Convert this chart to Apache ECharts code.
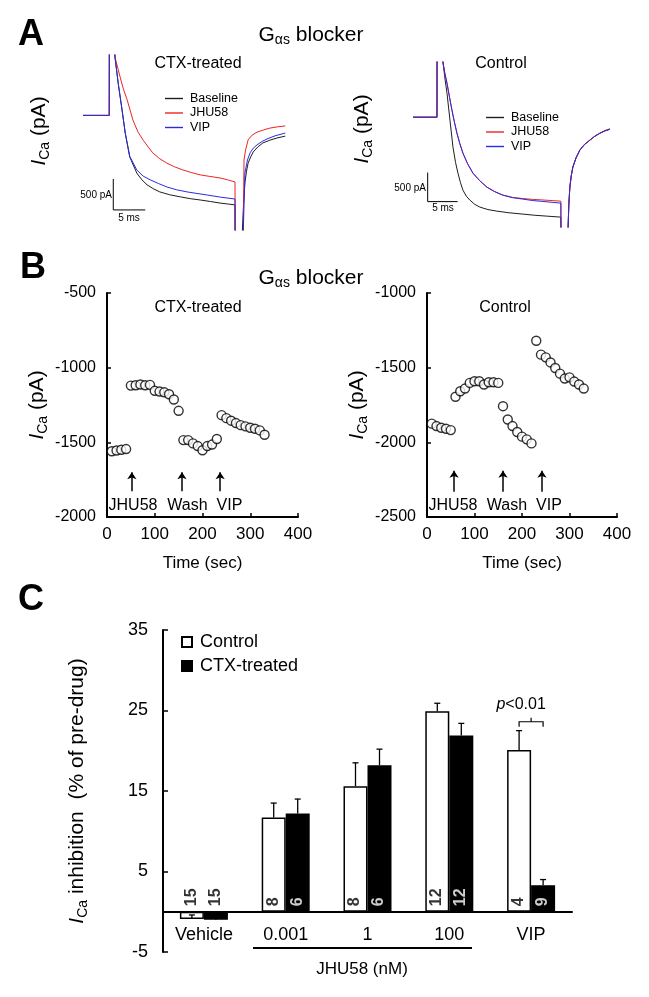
<!DOCTYPE html>
<html>
<head>
    <meta charset="utf-8"/>
    <title>Gαs blocker</title>
    <script src="https://cdn.jsdelivr.net/npm/echarts@6/dist/echarts.min.js"></script>
    <style>
        html, body { margin: 0; padding: 0; background: #fff; }
        #main { width: 649px; height: 997px; }
    </style>
</head>
<body>
<div id="main"></div>
<script>
    // ---- A: ICa traces, [time (ms), current (pA)] ----
    var ctxBaseline = [[0,0],[4.1,0],[4.12,1400],[4.7,1400],[5.0,940],[5.5,520],[6.1,90],[6.6,-285],[7.3,-670],[8.4,-930],[9.2,-1040],[10.0,-1120],[11.0,-1185],[12.0,-1235],[13.5,-1280],[15.2,-1315],[16.8,-1345],[18.3,-1365],[19.9,-1390],[21.4,-1415],[22.6,-1430],[23.75,-1445],[23.78,-2400],[24.85,-2400],[24.9,-1850],[25.1,-1400],[25.3,-1090],[25.55,-900],[25.8,-770],[26.2,-670],[26.6,-590],[27.3,-510],[28.1,-445],[29.2,-400],[30.3,-365],[31.6,-335]];
    var ctxJhu = [[0,0],[4.1,0],[4.12,1400],[4.7,1400],[5.0,940],[5.4,780],[5.8,620],[6.3,430],[6.9,250],[7.8,-75],[8.6,-270],[9.4,-400],[10.2,-510],[10.9,-605],[12.0,-700],[13.1,-770],[14.3,-830],[15.6,-880],[17.0,-925],[18.3,-960],[19.8,-985],[21.4,-1010],[22.6,-1040],[23.75,-1075],[23.78,-2400],[25.0,-2400],[25.05,-1850],[25.16,-720],[25.4,-560],[25.8,-395],[26.4,-320],[27.2,-270],[28.2,-235],[29.2,-205],[30.4,-185],[31.6,-170]];
    var ctxVip = [[0,0],[4.1,0],[4.12,1400],[4.7,1400],[5.0,940],[5.5,520],[6.1,90],[6.6,-285],[7.3,-660],[8.4,-880],[9.4,-980],[10.5,-1040],[11.8,-1100],[13.1,-1155],[14.6,-1200],[16.25,-1235],[17.8,-1260],[19.4,-1285],[21.5,-1320],[23.75,-1350],[23.78,-2400],[25.0,-2400],[25.05,-1850],[25.3,-930],[25.7,-720],[26.1,-605],[26.6,-530],[27.2,-475],[28.0,-420],[28.75,-380],[30.0,-330],[31.6,-285]];

    var ctlBaseline = [[0,0],[4.0,0],[4.02,1400],[4.8,1400],[5.0,946],[5.35,650],[5.67,413],[6.17,-52],[6.67,-516],[7.1,-780],[7.5,-963],[7.9,-1120],[8.33,-1256],[8.9,-1360],[9.5,-1428],[10.3,-1500],[11.17,-1548],[12.5,-1590],[14.0,-1617],[16.0,-1645],[18.33,-1668],[20.3,-1688],[22.33,-1703],[24.67,-1720],[24.7,-2500],[25.83,-2500],[25.88,-1892],[26.0,-1500],[26.17,-1204],[26.4,-1010],[26.67,-860],[27.2,-700],[27.83,-568],[28.6,-470],[29.5,-396],[30.3,-330],[31.17,-275],[32.0,-235],[32.83,-206]];
    var ctlJhu = [[0,0],[4.0,0],[4.02,1400],[4.8,1400],[5.0,946],[5.3,760],[5.67,585],[6.1,340],[6.5,120],[6.9,-80],[7.33,-275],[7.8,-450],[8.33,-619],[9.1,-800],[10.0,-963],[11.1,-1090],[12.33,-1204],[13.6,-1280],[15.0,-1342],[16.6,-1380],[18.33,-1400],[20.0,-1415],[21.67,-1425],[23.2,-1435],[24.67,-1445],[24.7,-2500],[25.83,-2500],[25.88,-1892],[26.0,-1500],[26.17,-1204],[26.4,-1010],[26.67,-860],[27.2,-700],[27.83,-568],[28.6,-470],[29.5,-396],[30.3,-330],[31.17,-275],[32.0,-230],[32.83,-200]];
    var ctlVip = [[0,0],[4.0,0],[4.02,1400],[4.8,1400],[5.0,946],[5.3,760],[5.67,585],[6.1,340],[6.5,120],[6.9,-80],[7.33,-275],[7.8,-450],[8.33,-619],[9.1,-800],[10.0,-963],[11.1,-1090],[12.33,-1204],[13.6,-1280],[15.0,-1342],[16.6,-1385],[18.33,-1410],[20.0,-1435],[21.67,-1450],[23.2,-1465],[24.67,-1479],[24.7,-2500],[25.83,-2500],[25.88,-1892],[26.0,-1500],[26.17,-1204],[26.4,-1010],[26.67,-860],[27.2,-700],[27.83,-568],[28.6,-470],[29.5,-396],[30.3,-330],[31.17,-278],[32.0,-238],[32.83,-210]];

    // scale bars: corner position and size (ms, pA)
    var scaleCornerCtx = [4.73, -1526];
    var scaleCornerCtl = [2.45, -1453];
    var scaleSize = [5, 500];

    // ---- B: ICa over time ----
    var timeSec = [10,20,30,40,50,60,70,80,90,100,110,120,130,140,150,160,170,180,190,200,210,220,230,240,250,260,270,280,290,300,310,320,330];
    var ctxCurrent = [-1560,-1555,-1550,-1545,-1120,-1118,-1113,-1118,-1115,-1155,-1160,-1165,-1178,-1213,-1289,-1485,-1485,-1507,-1525,-1553,-1525,-1515,-1478,-1318,-1338,-1355,-1371,-1385,-1393,-1402,-1409,-1420,-1449];
    var ctlCurrent = [-1875,-1891,-1902,-1909,-1918,-1695,-1658,-1640,-1602,-1591,-1591,-1613,-1598,-1598,-1602,-1758,-1847,-1891,-1931,-1962,-1980,-2007,-1320,-1413,-1431,-1465,-1502,-1540,-1573,-1565,-1593,-1613,-1640];
    var ctxArrowT = [52, 157, 237];
    var ctlArrowT = [57, 160, 242];
    var ctxArrowY = [-1827, -1700];
    var ctlArrowY = [-2331, -2191];
    var arrowNames = ['JHU58', 'Wash', 'VIP'];

    // ---- C: inhibition ----
    var groups = ['Vehicle', '0.001', '1', '100', 'VIP'];
    var controlMean = [-0.9, 11.7, 15.6, 24.9, 20.1];
    var controlErr = [0.5, 1.8, 2.9, 1.0, 2.4];
    var ctxMean = [-1.0, 12.2, 18.2, 21.9, 3.3];
    var ctxErr = [0.4, 1.8, 2.0, 1.5, 0.7];
    var controlN = [15, 8, 8, 12, 4];
    var ctxN = [15, 6, 6, 12, 9];
    var sigGroup = 4, sigLevel = 23.6;

    var FONT = '"Liberation Sans", Arial, sans-serif';
    var BLACK = '#1e1e1e', RED = '#ec2424', BLUE = '#2a2ae0';

    var myChart = echarts.init(document.getElementById('main'));

    var icaRich = {
        i: {fontStyle: 'italic', fontSize: 21, lineHeight: 26, fontFamily: FONT, color: '#000'},
        s: {fontSize: 14, lineHeight: 14, verticalAlign: 'bottom', fontFamily: FONT, color: '#000'}
    };
    function plain(v) { return String(v); }

    function txt(x, y, text, size, extra) {
        return {
            type: 'text', x: x, y: y, silent: true,
            style: Object.assign({
                text: text, fontSize: size, fontFamily: FONT, fill: '#000',
                align: 'center', verticalAlign: 'middle'
            }, extra || {})
        };
    }
    function gasTitle(y) {
        return txt(311, y, 'G{s|αs} blocker', 21, {lineHeight: 24, rich: {s: {fontSize: 14, lineHeight: 14, verticalAlign: 'bottom', fontFamily: FONT}}});
    }
    function icaLabel(x, y) {
        var t = txt(x, y, '{i|I}{s|Ca} (pA)', 21, {lineHeight: 26, rich: icaRich});
        t.rotation = Math.PI / 2;
        return t;
    }

    function trace(name, data, color, gi) {
        return {
            name: name, type: 'line', xAxisIndex: gi, yAxisIndex: gi, data: data,
            symbol: 'none', silent: true, clip: true,
            lineStyle: {color: color, width: 1}, itemStyle: {color: color}
        };
    }
    function scaleBarSeries(corner, gi) {
        return {
            type: 'line', xAxisIndex: gi, yAxisIndex: gi, symbol: 'none', silent: true,
            lineStyle: {color: '#000', width: 1},
            data: [[corner[0], corner[1] + scaleSize[1]], corner, [corner[0] + scaleSize[0], corner[1]]]
        };
    }
    function timeAxis(gi) {
        return {
            gridIndex: gi, type: 'value', min: 0, max: 400, interval: 100,
            axisLine: {onZero: false, lineStyle: {color: '#000', width: 2}},
            axisTick: {inside: true, length: 4, lineStyle: {color: '#000', width: 1.5}},
            axisLabel: {color: '#000', fontSize: 17, margin: 9, fontFamily: FONT, formatter: plain},
            splitLine: {show: false},
            name: 'Time (sec)', nameLocation: 'middle', nameGap: 38,
            nameTextStyle: {color: '#000', fontSize: 17, fontFamily: FONT}
        };
    }
    function currentAxis(gi, lo, hi) {
        return {
            gridIndex: gi, type: 'value', min: lo, max: hi, interval: 500,
            axisLine: {onZero: false, lineStyle: {color: '#000', width: 2}},
            axisTick: {inside: true, length: 4, lineStyle: {color: '#000', width: 1.5}},
            axisLabel: {color: '#000', fontSize: 16, margin: 11, fontFamily: FONT, formatter: plain},
            splitLine: {show: false},
            name: '{i|I}{s|Ca} (pA)', nameLocation: 'middle', nameRotate: 90, nameGap: 57,
            nameTextStyle: {color: '#000', fontSize: 21, lineHeight: 26, fontFamily: FONT, rich: icaRich}
        };
    }
    function timeCourse(times, values, arrowT, arrowY, gi) {
        return {
            type: 'scatter', xAxisIndex: gi, yAxisIndex: gi, silent: true,
            data: times.map(function (t, i) { return [t, values[i]]; }),
            symbol: 'circle', symbolSize: 9,
            itemStyle: {color: '#fff', borderColor: '#000', borderWidth: 1.4},
            markLine: {
                silent: true, symbol: ['none', 'arrow'], symbolSize: 7, animation: false,
                label: {show: false},
                lineStyle: {color: '#000', width: 1.5, type: 'solid'},
                data: arrowT.map(function (t) { return [{coord: [t, arrowY[0]]}, {coord: [t, arrowY[1]]}]; })
            }
        };
    }

    // error bars, drawn upward from the bar end
    function renderErr(params, api) {
        var i = api.value(0), m = api.value(1), e = api.value(2), side = api.value(3);
        var p0 = api.coord([i, m]), p1 = api.coord([i, m + e]);
        var x = p0[0] + side * 12;
        return {
            type: 'group', children: [
                {type: 'line', shape: {x1: x, y1: p0[1], x2: x, y2: p1[1]}, style: {stroke: '#000', lineWidth: 1.3}},
                {type: 'line', shape: {x1: x - 3, y1: p1[1], x2: x + 3, y2: p1[1]}, style: {stroke: '#000', lineWidth: 1.3}}
            ]
        };
    }
    function renderSig(params, api) {
        var p = api.coord([api.value(0), api.value(1)]);
        var x = p[0], y = p[1];
        return {
            type: 'group', children: [
                {type: 'polyline', shape: {points: [[x - 12, y + 5], [x - 12, y], [x + 12, y], [x + 12, y + 5]]}, style: {stroke: '#000', fill: null, lineWidth: 1.2}},
                {type: 'line', shape: {x1: x, y1: y, x2: x, y2: y - 4}, style: {stroke: '#000', lineWidth: 1.2}},
                {type: 'text', x: x - 10, y: y - 17, style: {text: '{i|p}<0.01', fontSize: 16, fontFamily: FONT, fill: '#000', align: 'center', verticalAlign: 'middle',
                    rich: {i: {fontStyle: 'italic', fontSize: 16, fontFamily: FONT}}}}
            ]
        };
    }
    function nLabels(nList, means, side, color) {
        return {
            type: 'scatter', xAxisIndex: 4, yAxisIndex: 4, silent: true, z: 5,
            symbolSize: 1, itemStyle: {color: 'rgba(0,0,0,0)', borderWidth: 0},
            data: nList.map(function (n, i) {
                return {value: [i, 0, n], label: {color: means[i] < 0 ? '#000' : color}};
            }),
            label: {
                show: true, position: [side * 12, -5], rotate: 90, align: 'left', verticalAlign: 'middle',
                fontSize: 16, fontWeight: 'bold', fontFamily: FONT,
                formatter: function (p) { return String(p.value[2]); }
            }
        };
    }

    var traceLegend = {
        data: ['Baseline', 'JHU58', 'VIP'], orient: 'vertical', padding: 0,
        icon: 'rect', itemWidth: 18, itemHeight: 1.4, itemGap: 1.5, selectedMode: false,
        textStyle: {color: '#000', fontSize: 12.5, fontFamily: FONT, padding: [0, 0, 0, 2]}
    };

    var option = {
        animation: false,
        textStyle: {fontFamily: FONT},
        grid: [
            {left: 83, top: 55, width: 208, height: 175, outerBoundsMode: 'none'},
            {left: 413, top: 62, width: 199, height: 165, outerBoundsMode: 'none'},
            {left: 107, top: 293, width: 191, height: 224, outerBoundsMode: 'none'},
            {left: 427, top: 293, width: 190, height: 224, outerBoundsMode: 'none'},
            {left: 163, top: 630, width: 409, height: 322, outerBoundsMode: 'none'}
        ],
        xAxis: [
            {gridIndex: 0, type: 'value', min: 0, max: 32.5, show: false},
            {gridIndex: 1, type: 'value', min: 0, max: 33.2, show: false},
            timeAxis(2),
            timeAxis(3),
            {
                gridIndex: 4, type: 'category', data: groups,
                axisLine: {onZero: true, lineStyle: {color: '#000', width: 2}},
                axisTick: {show: false},
                // labels sit just under the zero line (40 px above the grid bottom)
                axisLabel: {color: '#000', fontSize: 18, margin: -26, fontFamily: FONT},
                splitLine: {show: false}
            }
        ],
        yAxis: [
            {gridIndex: 0, type: 'value', min: -1850, max: 975, show: false},
            {gridIndex: 1, type: 'value', min: -1890, max: 950, show: false},
            currentAxis(2, -2000, -500),
            currentAxis(3, -2500, -1000),
            {
                gridIndex: 4, type: 'value', min: -5, max: 35, interval: 10,
                axisLine: {show: true, onZero: false, lineStyle: {color: '#000', width: 2}},
                axisTick: {show: true, inside: true, length: 5, lineStyle: {color: '#000', width: 1.5}},
                axisLabel: {color: '#000', fontSize: 18, margin: 15, fontFamily: FONT, formatter: plain},
                splitLine: {show: false},
                name: '{i|I}{s|Ca} inhibition  (% of pre-drug)', nameLocation: 'middle', nameRotate: 90, nameGap: 73,
                nameTextStyle: {color: '#000', fontSize: 21, lineHeight: 26, fontFamily: FONT, rich: icaRich}
            }
        ],
        legend: [
            Object.assign({left: 165, top: 92}, traceLegend),
            Object.assign({left: 486, top: 111}, traceLegend),
            {
                data: ['Control', 'CTX-treated'], orient: 'vertical', left: 181, top: 633, padding: 0,
                icon: 'rect', itemWidth: 10, itemHeight: 10, itemGap: 6, selectedMode: false,
                textStyle: {color: '#000', fontSize: 18, fontFamily: FONT, padding: [0, 0, 0, 3]}
            }
        ],
        series: [
            trace('Baseline', ctxBaseline, BLACK, 0),
            trace('JHU58', ctxJhu, RED, 0),
            trace('VIP', ctxVip, BLUE, 0),
            scaleBarSeries(scaleCornerCtx, 0),
            trace('Baseline', ctlBaseline, BLACK, 1),
            trace('JHU58', ctlJhu, RED, 1),
            trace('VIP', ctlVip, BLUE, 1),
            scaleBarSeries(scaleCornerCtl, 1),
            timeCourse(timeSec, ctxCurrent, ctxArrowT, ctxArrowY, 2),
            timeCourse(timeSec, ctlCurrent, ctlArrowT, ctlArrowY, 3),
            {
                name: 'Control', type: 'bar', xAxisIndex: 4, yAxisIndex: 4, data: controlMean,
                barWidth: 24, barGap: '0%', silent: true,
                itemStyle: {color: '#fff', borderColor: '#000', borderWidth: 1.5}
            },
            {
                name: 'CTX-treated', type: 'bar', xAxisIndex: 4, yAxisIndex: 4, data: ctxMean,
                barWidth: 24, barGap: '0%', silent: true,
                itemStyle: {color: '#000', borderColor: '#000', borderWidth: 1.5}
            },
            {
                type: 'custom', xAxisIndex: 4, yAxisIndex: 4, silent: true, z: 4,
                renderItem: renderErr, encode: {x: 0, y: 1},
                data: controlMean.map(function (m, i) { return [i, m, controlErr[i], -1]; })
                    .concat(ctxMean.map(function (m, i) { return [i, m, ctxErr[i], 1]; }))
            },
            nLabels(controlN, controlMean, -1, '#000'),
            nLabels(ctxN, ctxMean, 1, '#fff'),
            {
                type: 'custom', xAxisIndex: 4, yAxisIndex: 4, silent: true, z: 4,
                renderItem: renderSig, encode: {x: 0, y: 1},
                data: [[sigGroup, sigLevel]]
            }
        ],
        graphic: [
            txt(18, 35, 'A', 36, {fontWeight: 'bold', align: 'left'}),
            txt(20, 268, 'B', 36, {fontWeight: 'bold', align: 'left'}),
            txt(18, 600, 'C', 36, {fontWeight: 'bold', align: 'left'}),
            gasTitle(35),
            gasTitle(278),
            txt(198, 64, 'CTX-treated', 16),
            txt(501, 64, 'Control', 16),
            txt(198, 308, 'CTX-treated', 16),
            txt(505, 308, 'Control', 16),
            icaLabel(39, 131),
            icaLabel(362, 129),
            txt(112, 195, '500 pA', 10, {align: 'right'}),
            txt(129, 218, '5 ms', 10),
            txt(426, 188, '500 pA', 10, {align: 'right'}),
            txt(443, 208, '5 ms', 10),
            txt(133, 506, arrowNames[0], 16),
            txt(187.5, 506, arrowNames[1], 16),
            txt(229.5, 506, arrowNames[2], 16),
            txt(453, 506, arrowNames[0], 16),
            txt(507, 506, arrowNames[1], 16),
            txt(549, 506, arrowNames[2], 16),
            {type: 'line', silent: true, shape: {x1: 253, y1: 948, x2: 472, y2: 948}, style: {stroke: '#000', lineWidth: 2}},
            txt(362, 969, 'JHU58 (nM)', 17)
        ]
    };

    myChart.setOption(option);

    window.onresize = function () {
        myChart.resize();
    };
</script>
</body>
</html>
